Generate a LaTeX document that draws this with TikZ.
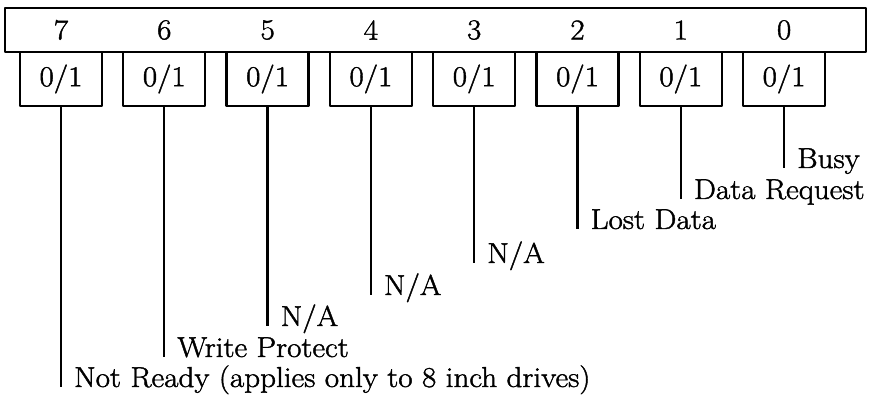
\documentclass[tikz,border=0pt]{standalone}
\usepackage{fontspec}
\setmainfont{Latin Modern Roman}[FakeStretch=1.08,RawFeature={embolden=1.5}]
\begin{document}
\begin{tikzpicture}[x=0.025cm,y=-0.025cm,line width=1.6pt,line join=round,
    font=\fontsize{20.5}{24}\selectfont,
    bitbox/.style={draw,minimum width=2.05cm,minimum height=1.35cm,inner sep=0pt},
    bitlabel/.style={anchor=base west,inner sep=0pt}]
  \def\pitch{103.3} \def\xfirst{61}
  \useasboundingbox (0,0) rectangle (872,398);
  % register bar
  \node[draw,minimum width=21.525cm,minimum height=1.1cm,inner sep=0pt] (bar) at (435.5,30) {};
  % bits, from bit 0 at the right to bit 7 at the left
  \foreach \b/\txt/\y in {0/Busy/168,1/Data Request/199,2/Lost Data/229,3/{N/A}/263,
      4/{N/A}/295,5/{N/A}/326,6/Write Protect/357,7/Not Ready (applies only to 8 inch drives)/387}
  {\pgfmathsetmacro\cx{\xfirst+(7-\b)*\pitch}
    \node (n\b) at (\cx,30) {\b};
    \node[bitbox] (b\b) at (\cx,79) {0/1};
    \coordinate (e\b) at (\cx,\y);
    \draw (b\b.south) -- (e\b);
    \node[bitlabel] (l\b) at ([xshift=0.3cm]e\b) {\txt};}
\end{tikzpicture}
\end{document}
